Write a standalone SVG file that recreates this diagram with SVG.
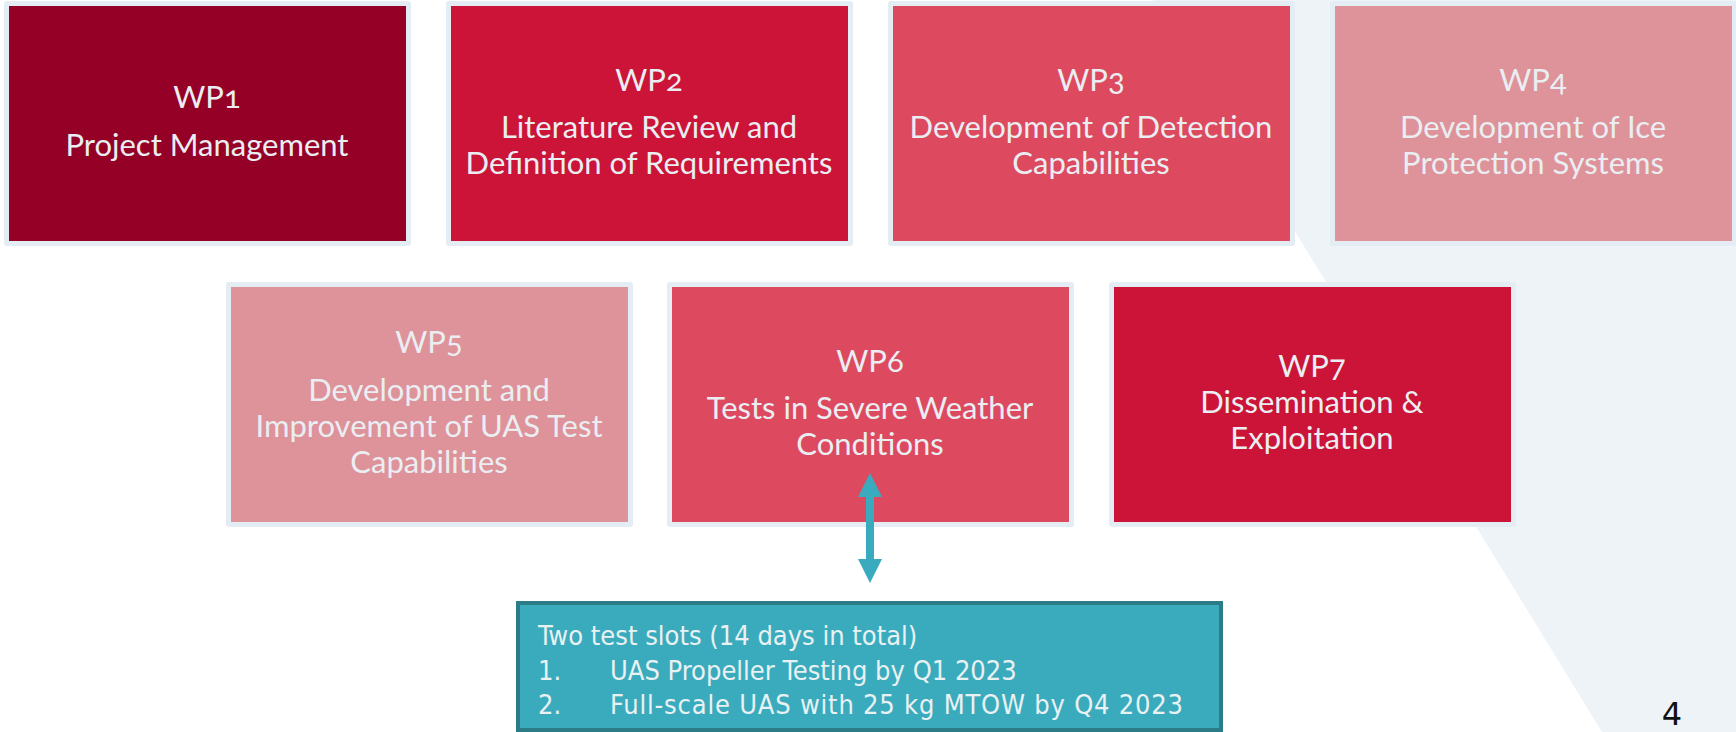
<svg xmlns="http://www.w3.org/2000/svg" width="1736" height="732" viewBox="0 0 1736 732">
<style>
.frame{fill:#e3edf3}
.t{font-family:Lato,"Open Sans","Liberation Sans",sans-serif;font-size:31px;fill:#eaeef2;text-anchor:middle;font-variant-numeric:oldstyle-nums}
.c1{fill:#940026}
.c2{fill:#cb1437}
.c3{fill:#dd4a60}
.c4{fill:#de9299}
.note{font-family:"DejaVu Sans Condensed","DejaVu Sans",sans-serif;font-stretch:condensed;font-size:27px;fill:#e9f1f3}
</style>
<defs>
<marker id="ah" viewBox="0 0 24 24" markerWidth="24" markerHeight="24" refX="0" refY="12" orient="auto-start-reverse" markerUnits="userSpaceOnUse">
<path d="M0,0 L24,12 L0,24 z" fill="#3aabbe"/>
</marker>
</defs>
<rect x="0" y="0" width="1736" height="732" fill="#ffffff"/>
<polygon points="1153,0 1736,0 1736,732 1602,732" fill="#eef3f7"/>

<g id="wp1">
<rect class="frame" x="4" y="1" width="407" height="245" rx="3"/>
<rect class="c1" x="9" y="6" width="397" height="235"/>
<text class="t" x="207" y="108">WP1</text>
<text class="t" x="207" y="156">Project Management</text>
</g>
<g id="wp2">
<rect class="frame" x="446" y="1" width="407" height="245" rx="3"/>
<rect class="c2" x="451" y="6" width="397" height="235"/>
<text class="t" x="649" y="91">WP2</text>
<text class="t" x="649" y="138">Literature Review and</text>
<text class="t" x="649" y="174">Definition of Requirements</text>
</g>
<g id="wp3">
<rect class="frame" x="888" y="1" width="407" height="245" rx="3"/>
<rect class="c3" x="893" y="6" width="397" height="235"/>
<text class="t" x="1091" y="91">WP3</text>
<text class="t" x="1091" y="138">Development of Detection</text>
<text class="t" x="1091" y="174">Capabilities</text>
</g>
<g id="wp4">
<rect class="frame" x="1330" y="1" width="407" height="245" rx="3"/>
<rect class="c4" x="1335" y="6" width="397" height="235"/>
<text class="t" x="1533" y="91">WP4</text>
<text class="t" x="1533" y="138">Development of Ice</text>
<text class="t" x="1533" y="174">Protection Systems</text>
</g>
<g id="wp5">
<rect class="frame" x="226" y="282" width="407" height="245" rx="3"/>
<rect class="c4" x="231" y="287" width="397" height="235"/>
<text class="t" x="429" y="353">WP5</text>
<text class="t" x="429" y="401">Development and</text>
<text class="t" x="429" y="437">Improvement of UAS Test</text>
<text class="t" x="429" y="473">Capabilities</text>
</g>
<g id="wp6">
<rect class="frame" x="667" y="282" width="407" height="245" rx="3"/>
<rect class="c3" x="672" y="287" width="397" height="235"/>
<text class="t" x="870" y="372">WP6</text>
<text class="t" x="870" y="419">Tests in Severe Weather</text>
<text class="t" x="870" y="455">Conditions</text>
</g>
<g id="wp7">
<rect class="frame" x="1109" y="282" width="407" height="245" rx="3"/>
<rect class="c2" x="1114" y="287" width="397" height="235"/>
<text class="t" x="1312" y="377">WP7</text>
<text class="t" x="1312" y="413">Dissemination &amp;</text>
<text class="t" x="1312" y="449">Exploitation</text>
</g>

<g id="connectors">
<line x1="870" y1="497" x2="870" y2="559" stroke="#3aabbe" stroke-width="8" marker-start="url(#ah)" marker-end="url(#ah)"/>
</g>

<g id="note">
<rect x="518" y="603" width="703" height="127" fill="#3aabbd" stroke="#2c7c88" stroke-width="4"/>
<text class="note" x="538" y="645">Two test slots (14 days in total)</text>
<text class="note" x="538" y="680">1.</text>
<text class="note" x="610" y="680">UAS Propeller Testing by Q1 2023</text>
<text class="note" x="538" y="714">2.</text>
<text class="note" x="610" y="714" textLength="573" lengthAdjust="spacing">Full-scale UAS with 25 kg MTOW by Q4 2023</text>
</g>

<text x="1672" y="725" font-family="'DejaVu Sans','Liberation Sans',sans-serif" font-size="32" fill="#111111" text-anchor="middle">4</text>
</svg>
